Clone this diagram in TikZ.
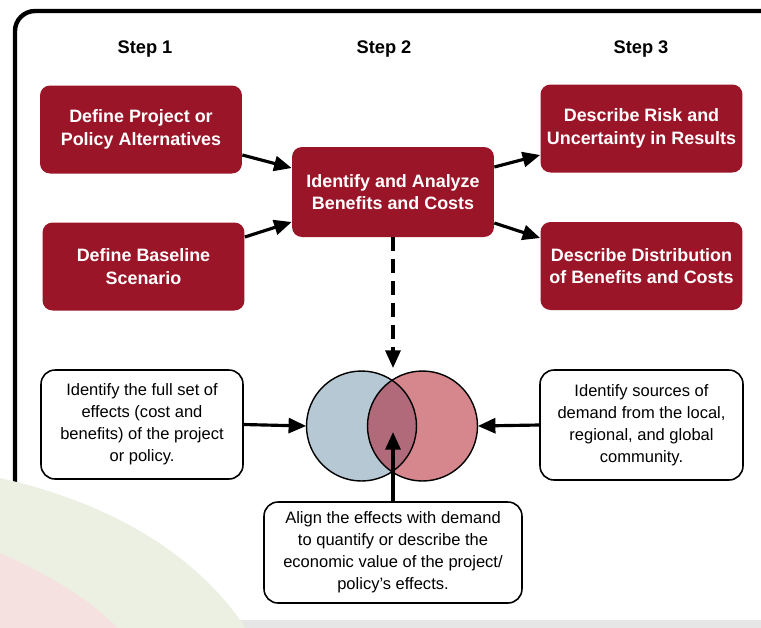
\documentclass[tikz,border=0pt]{standalone}
\usepackage{fontspec}
\setmainfont{Liberation Sans}
\usepackage{tikz}
\usetikzlibrary{positioning,arrows.meta,calc}
\definecolor{cbared}{HTML}{9B1528}
\definecolor{cbablue}{HTML}{B6C8D4}
\definecolor{cbapink}{HTML}{D6878D}
\definecolor{cbamix}{HTML}{B06A7A}
\definecolor{bggreen}{HTML}{ECF0E3}
\definecolor{bgpink}{HTML}{F4E1E0}
\definecolor{bggray}{HTML}{E6E6E6}

\begin{document}
\begin{tikzpicture}[x=0.02cm, y=-0.02cm,
    every node/.style={font=\fontsize{9.4}{12.5}\selectfont, align=center},
    stephead/.style={font=\fontsize{10.4}{12}\selectfont\bfseries},
    redbox/.style={fill=cbared, text=white, rounded corners=0.2cm, minimum width=4.04cm, minimum height=1.76cm, font=\fontsize{10.2}{12.9}\selectfont\bfseries},
    notebox/.style={draw, line width=0.9pt, fill=white, rounded corners=0.28cm, minimum width=4.04cm, minimum height=2.18cm},
    arr/.style={-{Triangle[length=10pt,width=8.5pt]}, line width=1.8pt}]
    \useasboundingbox (0,0) rectangle (761,627);
    \clip (0,0) rectangle (761,627);
    % frame and background
    \fill[bggray] (0,620) rectangle (780,650);
    \draw[line width=2.5pt, rounded corners=0.4cm] (15,660) -- (15,11) -- (790,11);
    \fill[bggreen] (0,478) .. controls (120,505) and (200,560) .. (245,627) -- (250,650) -- (-10,650) -- (-10,478) -- cycle;
    \fill[bgpink] (0,553) .. controls (50,575) and (90,600) .. (117,627) -- (120,650) -- (-10,650) -- (-10,553) -- cycle;

    \node[stephead] (s1) at (145,49) {Step 1};
    \node[stephead] (s2) at (384,49) {Step 2};
    \node[stephead] (s3) at (641,49) {Step 3};

    \node[redbox] (alt) at (141,129.5) {Define Project or\\Policy Alternatives};
    \node[redbox] (base) at (143.5,266.5) {Define Baseline\\Scenario};
    \node[redbox, minimum height=1.8cm] (ana) at (393,192) {Identify and Analyze\\Benefits and Costs};
    \node[redbox] (risk) at (641.5,128.5) {Describe Risk and\\Uncertainty in Results};
    \node[redbox] (dist) at (641.5,266) {Describe Distribution\\of Benefits and Costs};

    % overlapping circles
    \node[circle, fill=cbablue, minimum size=2.2cm] (lc) at (361.5,426) {};
    \node[circle, fill=cbapink, minimum size=2.2cm] (rc) at (422.5,426) {};
    \begin{scope}
      \clip (361.5,426) circle (1.1cm);
      \fill[cbamix] (422.5,426) circle (1.1cm);
    \end{scope}
    \draw[line width=0.8pt] (361.5,426) circle (1.1cm);
    \draw[line width=0.8pt] (422.5,426) circle (1.1cm);
    \coordinate (top) at (393,368);
    \coordinate (mid) at (393,432);

    \node[notebox] (eff) at (142,424.5) {Identify the full set of\\effects (cost and\\benefits) of the project\\or policy.};
    \node[notebox, minimum width=4.06cm, minimum height=2.2cm] (dem) at (641.5,425) {Identify sources of\\demand from the local,\\regional, and global\\community.};
    \node[notebox, minimum width=5.16cm, minimum height=2.02cm] (align) at (393,552.5) {Align the effects with demand\\to quantify or describe the\\economic value of the project/\\policy's effects.};

    \draw[arr] ([yshift=-0.51cm]alt.east) -- ([yshift=0.48cm]ana.west);
    \draw[arr] ([yshift=0.59cm]base.east) -- ([yshift=-0.6cm]ana.west);
    \draw[arr] ([yshift=0.5cm]ana.east) -- ([yshift=-0.53cm]risk.west);
    \draw[arr] ([yshift=-0.62cm]ana.east) -- ([yshift=0.56cm]dist.west);
    \draw[arr, dash pattern=on 8pt off 4.5pt] (ana.south) -- (top);
    \draw[arr] (eff.east) -- (lc.west);
    \draw[arr] (dem.west) -- (rc.east);
    \draw[arr] (align.north) -- (mid);
  \end{tikzpicture}
\end{document}
